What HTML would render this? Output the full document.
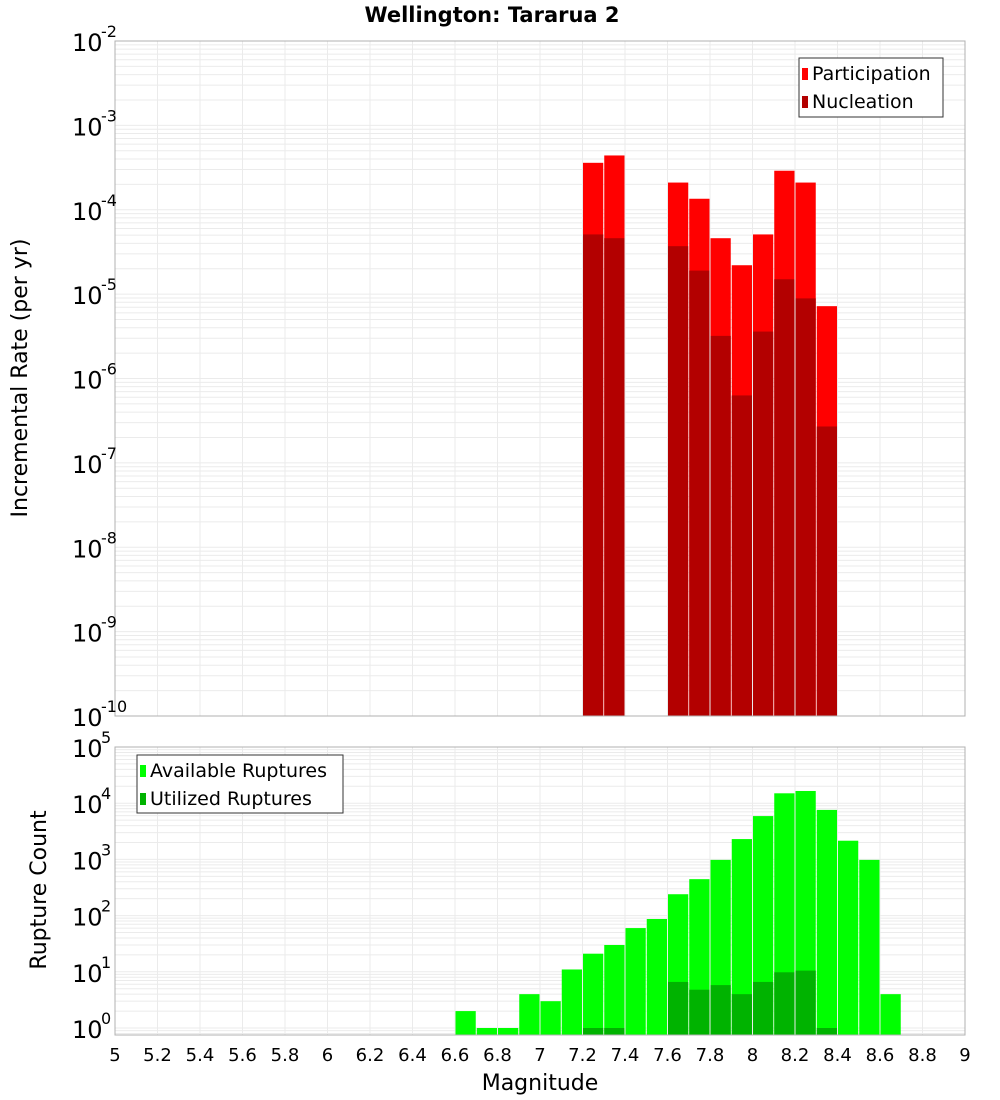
<!DOCTYPE html>
<html><head><meta charset="utf-8"><style>
body{margin:0;background:#fff;font-family:"DejaVu Sans","Liberation Sans",sans-serif}
svg{display:block}
</style></head><body>
<svg id="c" width="1000" height="1100" xmlns="http://www.w3.org/2000/svg">
<text x="492" y="22" text-anchor="middle" font-size="21" font-weight="bold">Wellington: Tararua 2</text>
<text transform="translate(27,378) rotate(-90)" text-anchor="middle" font-size="22">Incremental Rate (per yr)</text>
<text transform="translate(46,890) rotate(-90)" text-anchor="middle" font-size="22">Rupture Count</text>
<text x="540" y="1090" text-anchor="middle" font-size="22">Magnitude</text>
</svg>
<script>
const rateMags=[7.25,7.35,7.65,7.75,7.85,7.95,8.05,8.15,8.25,8.35];
const participation=[3.6e-4,4.4e-4,2.1e-4,1.35e-4,4.6e-5,2.2e-5,5.1e-5,2.9e-4,2.1e-4,7.2e-6];
const nucleation=[5.1e-5,4.6e-5,3.7e-5,1.9e-5,3.2e-6,6.3e-7,3.6e-6,1.5e-5,8.9e-6,2.7e-7];
const countMags=[6.65,6.75,6.85,6.95,7.05,7.15,7.25,7.35,7.45,7.55,7.65,7.75,7.85,7.95,8.05,8.15,8.25,8.35,8.45,8.55,8.65];
const available=[2,1,1,4,3,11,21,30,60,87,240,445,980,2300,5900,15000,16500,7600,2150,980,4];
const utilMags=[7.25,7.35,7.65,7.75,7.85,7.95,8.05,8.15,8.25,8.35];
const utilized=[1,1,6.6,4.8,5.8,4,6.6,9.8,10.5,1];
const xTicks=[5,5.2,5.4,5.6,5.8,6,6.2,6.4,6.6,6.8,7,7.2,7.4,7.6,7.8,8,8.2,8.4,8.6,8.8,9];
const topExp=[-2,-3,-4,-5,-6,-7,-8,-9,-10];
const botExp=[5,4,3,2,1,0];

const svg=document.getElementById('c');
const NS='http://www.w3.org/2000/svg';
function mk(tag,attrs,parent){const e=document.createElementNS(NS,tag);for(const k in attrs)e.setAttribute(k,attrs[k]);(parent||svg).appendChild(e);return e;}
const X0=115,X1=965;
const x=m=>X0+(m-5)/4*(X1-X0);
const T0=41,T1=716;
const yT=v=>T0+(-2-Math.log10(v))*(T1-T0)/8;
const B0=747,B1=1035,DEC=56.2;
const yB=v=>B0+(5-Math.log10(v))*DEC;

function panel(top,bot,yf,lo,hi,name){
  const g=mk('g',{});
  
  
  for(let e=lo;e<hi;e++)for(let k=1;k<10;k++){const yy=yf(k*Math.pow(10,e));if(yy>=top&&yy<=bot)mk('line',{x1:X0,x2:X1,y1:yy,y2:yy,stroke:'#ebebeb','stroke-width':1},g);}
  xTicks.forEach(t=>mk('line',{x1:x(t),x2:x(t),y1:top,y2:bot,stroke:'#ebebeb','stroke-width':1},g));
}
function frame(top,bot,name){const r=mk('rect',{x:X0,y:top,width:X1-X0,height:bot-top,fill:'none',stroke:'#b0b0b0'});
}
panel(T0,T1,yT,-10,-2,'top');
panel(B0,B1,yB,-1,5,'bottom');

const bw=x(5.1)-x(5)-1;
rateMags.forEach((m,i)=>{
  const yp=yT(participation[i]);
  const r=mk('rect',{x:x(m)-bw/2,y:yp,width:bw,height:T1-yp,fill:'#ff0000'});
  
  
  const yn=yT(nucleation[i]);
  const n=mk('rect',{x:x(m)-bw/2,y:yn,width:bw,height:T1-yn,fill:'#b30000'});
  
  
});
countMags.forEach((m,i)=>{
  const ya=Math.max(yB(available[i]),B0);
  const r=mk('rect',{x:x(m)-bw/2,y:ya,width:bw,height:B1-ya,fill:'#00ff00'});
  
  
});
utilMags.forEach((m,i)=>{
  const yu=yB(utilized[i]);
  const r=mk('rect',{x:x(m)-bw/2,y:yu,width:bw,height:B1-yu,fill:'#00b300'});
  
  
});
frame(T0,T1,'top');frame(B0,B1,'bottom');

function ylab(e,yy,name){
  const t=mk('text',{x:72,y:yy+10,'font-size':24});
  t.textContent='10';
  
  
  const s=mk('text',{x:101,y:yy-4,'font-size':16});
  s.textContent=String(e);
  
  
}
topExp.forEach(e=>ylab(e,yT(Math.pow(10,e)),'top-y-tick-label'));
botExp.forEach(e=>ylab(e,yB(Math.pow(10,e)),'bottom-y-tick-label'));
xTicks.forEach(t=>{
  const s=mk('text',{x:x(t),y:1061,'text-anchor':'middle','font-size':18});
  s.textContent=String(t);
  
  
});

function legend(bx,by,w,h,items,name){
  const g=mk('g',{});
  
  
  mk('rect',{x:bx,y:by,width:w,height:h,fill:'#fff',stroke:'#333'},g);
  items.forEach((it,i)=>{
    mk('rect',{x:bx+3,y:by+10+i*28,width:6,height:12,fill:it[1]},g);
    const t=mk('text',{x:bx+13,y:by+22+i*28,'font-size':19},g);
    t.textContent=it[0];
  });
}
legend(799,58,144,59,[['Participation','#ff0000'],['Nucleation','#b30000']],'top-legend');
legend(137,755,206,58,[['Available Ruptures','#00ff00'],['Utilized Ruptures','#00b300']],'bottom-legend');
</script>
</body></html>
